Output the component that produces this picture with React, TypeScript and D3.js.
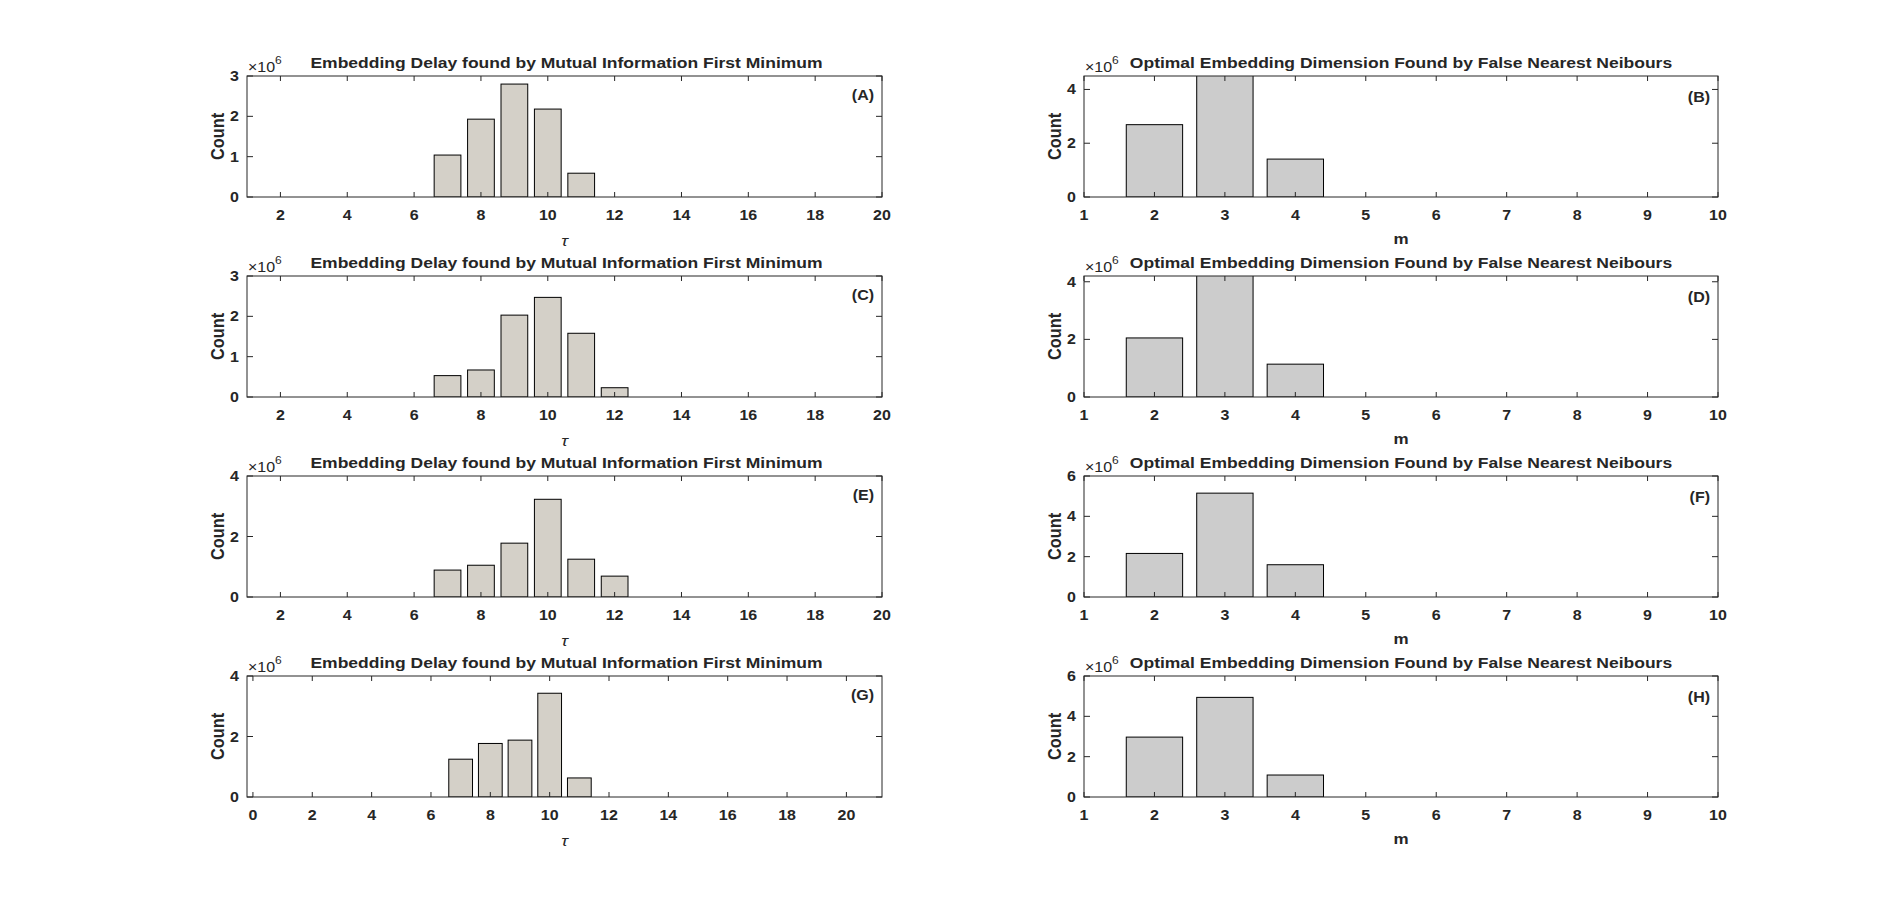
// App.tsx
// 4x2 grid of MATLAB-style histograms: embedding delay (left) and embedding dimension (right)
import React from "react";
import * as d3 from "d3";

// ---- data ----
const tauBins = [7, 8, 9, 10, 11, 12];
const dimBins = [2, 3, 4];

const delayA = [1.04e6, 1.93e6, 2.8e6, 2.18e6, 0.59e6, 0];
const delayC = [0.53e6, 0.67e6, 2.03e6, 2.47e6, 1.58e6, 0.23e6];
const delayE = [0.89e6, 1.05e6, 1.78e6, 3.23e6, 1.25e6, 0.69e6];
const delayG = [1.25e6, 1.77e6, 1.88e6, 3.43e6, 0.63e6, 0];

const dimB = [2.69e6, 4.6e6, 1.41e6];
const dimD = [2.05e6, 4.4e6, 1.14e6];
const dimF = [2.16e6, 5.15e6, 1.6e6];
const dimH = [2.97e6, 4.94e6, 1.09e6];

const tauTicks = [2, 4, 6, 8, 10, 12, 14, 16, 18, 20];
const tauTicksG = [0, 2, 4, 6, 8, 10, 12, 14, 16, 18, 20];
const dimTicks = [1, 2, 3, 4, 5, 6, 7, 8, 9, 10];

const delayTitle = "Embedding Delay found by Mutual Information First Minimum";
const dimTitle = "Optimal Embedding Dimension Found by False Nearest Neibours";

interface Panel {
  letter: string;
  kind: "delay" | "dim";
  bins: number[];
  values: number[];
  xDomain: [number, number];
  xTicks: number[];
  yMax: number;
  yTicks: number[];
}

const panels: Panel[] = [
  { letter: "A", kind: "delay", bins: tauBins, values: delayA, xDomain: [1, 20], xTicks: tauTicks, yMax: 3e6, yTicks: [0, 1, 2, 3] },
  { letter: "B", kind: "dim", bins: dimBins, values: dimB, xDomain: [1, 10], xTicks: dimTicks, yMax: 4.5e6, yTicks: [0, 2, 4] },
  { letter: "C", kind: "delay", bins: tauBins, values: delayC, xDomain: [1, 20], xTicks: tauTicks, yMax: 3e6, yTicks: [0, 1, 2, 3] },
  { letter: "D", kind: "dim", bins: dimBins, values: dimD, xDomain: [1, 10], xTicks: dimTicks, yMax: 4.2e6, yTicks: [0, 2, 4] },
  { letter: "E", kind: "delay", bins: tauBins, values: delayE, xDomain: [1, 20], xTicks: tauTicks, yMax: 4e6, yTicks: [0, 2, 4] },
  { letter: "F", kind: "dim", bins: dimBins, values: dimF, xDomain: [1, 10], xTicks: dimTicks, yMax: 6e6, yTicks: [0, 2, 4, 6] },
  { letter: "G", kind: "delay", bins: tauBins, values: delayG, xDomain: [-0.2, 21.2], xTicks: tauTicksG, yMax: 4e6, yTicks: [0, 2, 4] },
  { letter: "H", kind: "dim", bins: dimBins, values: dimH, xDomain: [1, 10], xTicks: dimTicks, yMax: 6e6, yTicks: [0, 2, 4, 6] },
];

// ---- layout ----
const W = 1899, H = 913;
const colX: [number, number][] = [[247, 882], [1084, 1718]];
const rowTop = [76, 276, 476, 676];
const axH = 121;
const SY = 0.86; // text in the reference is vertically squashed
const FONT = "'Liberation Sans', Arial, Helvetica, sans-serif";
const AX = "#262626";
const TICK = 5;

function T({ x, y, children, size, anchor = "start", weight = "bold", italic = false, rotate = 0 }: any) {
  const tr = rotate
    ? `translate(${x},${y}) scale(1,${SY}) rotate(${rotate})`
    : `translate(${x},${y}) scale(1,${SY})`;
  return (
    <text transform={tr} fontFamily={FONT} fontSize={size} fontWeight={weight}
      fontStyle={italic ? "italic" : "normal"} textAnchor={anchor} fill={AX}>
      {children}
    </text>
  );
}

function PanelView({ p, idx }: { p: Panel; idx: number }) {
  const col = idx % 2;
  const row = Math.floor(idx / 2);
  const [x0, x1] = colX[col];
  const y0 = rowTop[row];
  const y1 = y0 + axH;
  const x = d3.scaleLinear().domain(p.xDomain).range([x0, x1]);
  const y = d3.scaleLinear().domain([0, p.yMax]).range([y1, y0]);
  const bw = x(0.8) - x(0);
  const fill = p.kind === "delay" ? "#d4d0c8" : "#cccccc";
  const clipId = `clip-${p.letter}`;
  const cx = (x0 + x1) / 2;
  return (
    <g>
      <defs>
        <clipPath id={clipId}>
          <rect x={x0} y={y0} width={x1 - x0} height={axH} />
        </clipPath>
      </defs>
      <g clipPath={`url(#${clipId})`}>
        {p.bins.map((b, i) =>
          p.values[i] > 0 ? (
            <rect key={b} x={x(b) - bw / 2} y={y(p.values[i])} width={bw}
              height={y1 - y(p.values[i])} fill={fill} stroke="#000" strokeWidth={1} />
          ) : null
        )}
      </g>
      {/* box */}
      <rect x={x0} y={y0} width={x1 - x0} height={axH} fill="none" stroke={AX} strokeWidth={1} />
      {/* x ticks */}
      {p.xTicks.map((t) => (
        <g key={`x${t}`}>
          <line x1={x(t)} x2={x(t)} y1={y1} y2={y1 - TICK} stroke={AX} />
          <line x1={x(t)} x2={x(t)} y1={y0} y2={y0 + TICK} stroke={AX} />
          <T x={x(t)} y={y1 + 23} size={16} anchor="middle">{t}</T>
        </g>
      ))}
      {/* y ticks */}
      {p.yTicks.map((t) => (
        <g key={`y${t}`}>
          <line x1={x0} x2={x0 + TICK + 1} y1={y(t * 1e6)} y2={y(t * 1e6)} stroke={AX} />
          <line x1={x1} x2={x1 - TICK - 1} y1={y(t * 1e6)} y2={y(t * 1e6)} stroke={AX} />
          <T x={x0 - 8} y={y(t * 1e6) + 5} size={16} anchor="end">{t}</T>
        </g>
      ))}
      {/* exponent */}
      <T x={x0 + 1} y={y0 - 4} size={16} weight="normal">
        ×10<tspan fontSize={12} dy={-9}>6</tspan>
      </T>
      {/* title */}
      <T x={cx + (p.kind === "dim" ? 0 : 2)} y={y0 - 8} size={17.5} anchor="middle">
        {p.kind === "delay" ? delayTitle : dimTitle}
      </T>
      {/* axis labels */}
      <T x={x0 - 23} y={(y0 + y1) / 2} size={19} anchor="middle" rotate={-90}>Count</T>
      {p.kind === "delay" ? (
        <T x={cx} y={y1 + 49} size={18} anchor="middle" weight="normal" italic>τ</T>
      ) : (
        <T x={cx} y={y1 + 47} size={17} anchor="middle">m</T>
      )}
      {/* panel letter */}
      <T x={x1 - 8} y={y0 + (col === 0 ? 24 : 26)} size={16} anchor="end">({p.letter})</T>
    </g>
  );
}

export default function App() {
  return (
    <div style={{ position: "absolute", left: 0, top: 0 }}>
      <svg width={W} height={H} style={{ display: "block", background: "#fff" }}>
        {panels.map((p, i) => (
          <PanelView key={p.letter} p={p} idx={i} />
        ))}
      </svg>
    </div>
  );
}
